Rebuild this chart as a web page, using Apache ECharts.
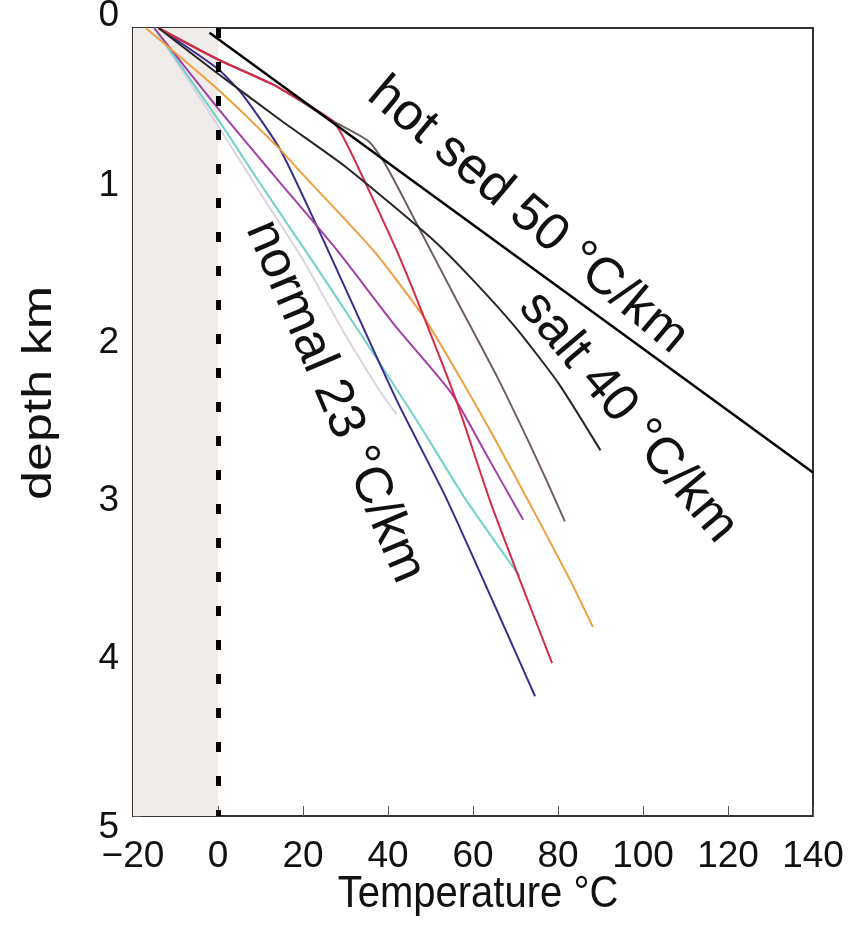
<!DOCTYPE html>
<html>
<head>
<meta charset="utf-8">
<script src="https://cdn.jsdelivr.net/npm/echarts@6/dist/echarts.min.js"></script>
<style>
  html, body { margin: 0; padding: 0; background: #fff; }
  #chart { width: 858px; height: 925px; }
</style>
</head>
<body>
<div id="chart"></div>
<script>
const tempTicks = [-20, 0, 20, 40, 60, 80, 100, 120, 140];
const depthTicks = [0, 1, 2, 3, 4, 5];

// profiles as [temperature °C, depth km]
const hotSed = [[-2, 0.03], [140, 2.82]];
const salt = [[-14, 0], [0, 0.29], [15, 0.59], [30, 0.88], [50, 1.33], [60, 1.6], [70, 1.9], [80, 2.25], [90, 2.68]];
const grey = [[-14, 0], [0, 0.2], [13, 0.36], [27, 0.59], [35.5, 0.72], [39.7, 0.88], [47.5, 1.28], [56, 1.72], [65.8, 2.22], [73, 2.62], [77.3, 2.87], [81.6, 3.13]];
const red = [[-14, 0], [0, 0.2], [13, 0.36], [27, 0.59], [30, 0.72], [35, 1.0], [42, 1.41], [47.5, 1.77], [56, 2.36], [64, 3.0], [71, 3.5], [78.6, 4.03]];
const orange = [[-17, 0], [0, 0.39], [14.6, 0.77], [20, 0.93], [36.5, 1.41], [48.3, 1.83], [57, 2.22], [65, 2.6], [73, 3.0], [82.8, 3.5], [88.2, 3.8]];
const purple = [[-15, 0], [0, 0.51], [13, 0.93], [28, 1.41], [42, 1.9], [55, 2.32], [63, 2.7], [71.8, 3.12]];
const blue = [[-14, 0], [0, 0.26], [6, 0.43], [14.6, 0.77], [24, 1.3], [42, 2.36], [54, 3.0], [74.6, 4.24]];
const cyan = [[-15, 0], [0, 0.58], [10, 0.99], [22, 1.47], [35, 2.0], [47, 2.5], [58, 2.98], [71, 3.48]];
const lavender = [[-15, 0], [0, 0.62], [10, 1.05], [20, 1.47], [30, 1.95], [38, 2.3], [42, 2.45]];

// rotated labels: text, anchor in data coords, clockwise angle
const notes = [
    { text: 'hot sed 50 °C/km', at: [72.9, 1.19], angle: 40 },
    { text: 'salt 40 °C/km', at: [96.5, 2.47], angle: 50 },
    { text: 'normal 23 °C/km', at: [27.5, 2.37], angle: 67 }
];

const FONT = '"Liberation Sans", Arial, sans-serif';

function profile(data, color, width) {
    return {
        type: 'line', data: data, showSymbol: false, smooth: 0.2,
        lineStyle: { color: color, width: width || 2 }, silent: true
    };
}

const chart = echarts.init(document.getElementById('chart'));
const series = [
    profile(lavender, '#ddd2e2'),
    profile(cyan, '#70d2c8'),
    profile(blue, '#3a2c8c'),
    profile(purple, '#a43fa6'),
    profile(orange, '#eea040'),
    profile(grey, '#6f605c'),
    profile(red, '#d52a4a'),
    profile(salt, '#262626'),
    {
        type: 'line', data: hotSed, showSymbol: false, silent: true,
        lineStyle: { color: '#000', width: 2.5 },
        markLine: {
            silent: true, symbol: 'none', label: { show: false },
            lineStyle: { color: '#000', width: 5, type: [10, 24] },
            data: [{ xAxis: 0 }]
        }
    }
];
series[0].markArea = {
    silent: true,
    itemStyle: { color: '#efecea' },
    data: [[{ xAxis: tempTicks[0] }, { xAxis: 0 }]]
};

chart.setOption({
    animation: false,
    backgroundColor: '#fff',
    grid: {
        left: 133, right: 45, top: 28, bottom: 109, outerBoundsMode: 'none',
        show: true, borderColor: '#333', borderWidth: 2
    },
    xAxis: {
        type: 'value',
        min: tempTicks[0], max: tempTicks[tempTicks.length - 1], interval: tempTicks[1] - tempTicks[0],
        axisLine: { onZero: false, lineStyle: { color: '#333', width: 2 } },
        axisTick: { inside: true, length: 10, lineStyle: { color: '#555' } },
        splitLine: { show: false },
        axisLabel: {
            fontFamily: FONT, fontSize: 37, color: '#111', margin: 22,
            formatter: v => v < 0 ? '\u2212' + Math.abs(v) : String(v)
        }
    },
    yAxis: {
        type: 'value', inverse: true,
        min: depthTicks[0], max: depthTicks[depthTicks.length - 1], interval: 1,
        axisLine: { onZero: false, lineStyle: { color: '#333', width: 2 } },
        axisTick: { inside: true, length: 8, lineStyle: { color: '#555' } },
        splitLine: { show: false },
        axisLabel: {
            fontFamily: FONT, fontSize: 37, color: '#111', margin: 14, lineHeight: 24,
            verticalAlignMinLabel: 'bottom', verticalAlignMaxLabel: 'top'
        }
    },
    series: series
});

// axis titles (slightly stretched like the source figure) and rotated notes
const graphics = [
    {
        type: 'text', x: 478, y: 895, scaleY: 1.1,
        style: { text: 'Temperature °C', fontFamily: FONT, fontSize: 40, fill: '#111', align: 'center', verticalAlign: 'middle' }
    },
    {
        type: 'text', x: 40, y: 393, rotation: Math.PI / 2, scaleX: 1.3,
        style: { text: 'depth km', fontFamily: FONT, fontSize: 40, fill: '#111', align: 'center', verticalAlign: 'middle' }
    }
];
notes.forEach(n => {
    const p = chart.convertToPixel({ gridIndex: 0 }, n.at);
    graphics.push({
        type: 'text', x: p[0], y: p[1], rotation: -n.angle * Math.PI / 180, z: 100,
        style: {
            text: n.text, fontFamily: FONT, fontSize: 52, fill: '#111',
            align: 'center', verticalAlign: 'middle'
        }
    });
});
chart.setOption({ graphic: graphics });
window.addEventListener('resize', () => chart.resize());
</script>
</body>
</html>
